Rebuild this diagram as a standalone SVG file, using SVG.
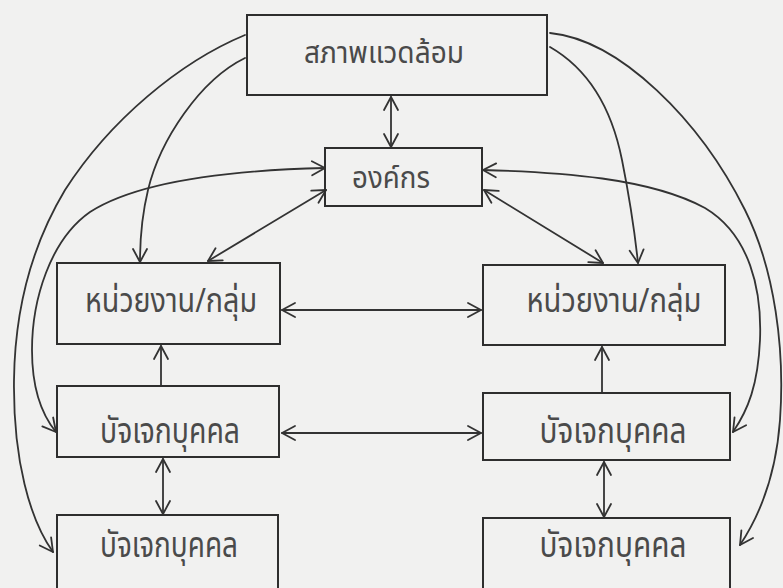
<svg xmlns="http://www.w3.org/2000/svg" width="783" height="588" viewBox="0 0 783 588">
  <style>
    .box { fill: none; stroke: #2e2e2e; stroke-width: 2; }
    .lbl { font-family: "Tlwg Typewriter", "Noto Sans Thai", "Noto Sans", "DejaVu Sans", sans-serif; fill: #4a4a4a; text-anchor: middle; }
    .s1 { font-size: 30px; }
    .s2 { font-size: 33px; }
    .s3 { font-size: 35px; }
    .link { fill: none; stroke: #333; stroke-width: 1.8; stroke-linecap: round; }
    .one { marker-end: url(#v); }
    .two { marker-start: url(#v); marker-end: url(#v); }
  </style>
  <defs>
    <marker id="v" markerUnits="userSpaceOnUse" markerWidth="30" markerHeight="30" viewBox="-15 -15 30 30" refX="0" refY="0" orient="auto-start-reverse">
      <path d="M-13,-7 L0,0 L-13,7" fill="none" stroke="#333" stroke-width="1.8" stroke-linecap="round" stroke-linejoin="round"/>
    </marker>
  </defs>

  <rect width="783" height="588" fill="#f1f1f0"/>

  <!-- connectors -->
  <g id="connectors">
    <!-- environment <-> organisation -->
    <line class="link two" x1="391" y1="97" x2="391" y2="147"/>
    <!-- environment -> units / individuals -->
    <path class="link one" d="M245,35 C180,62 110,120 65,190 C35,240 15,300 14,380 C13,460 30,520 53,552"/>
    <path class="link one" d="M245,58 C200,80 160,140 148,190 C142,215 140,240 140,262"/>
    <path class="link one" d="M550,33 C620,40 700,120 745,210 C775,270 785,350 780,420 C776,475 760,515 740,545"/>
    <path class="link one" d="M550,47 C590,70 612,110 622,160 C630,200 635,235 638,263"/>
    <!-- organisation <-> individuals -->
    <path class="link two" d="M325,168 C240,170 140,180 90,212 C50,240 32,300 32,350 C32,390 42,415 56,432"/>
    <path class="link two" d="M483,170 C560,172 650,178 705,208 C750,235 762,290 760,340 C758,385 748,410 733,432"/>
    <!-- organisation <-> units -->
    <line class="link two" x1="326" y1="190" x2="208" y2="261"/>
    <line class="link two" x1="484" y1="190" x2="603" y2="263"/>
    <!-- unit <-> unit, individual <-> individual -->
    <line class="link two" x1="282" y1="310" x2="481" y2="310"/>
    <line class="link two" x1="282" y1="433" x2="481" y2="433"/>
    <!-- individual -> unit -->
    <line class="link one" x1="161" y1="386" x2="161" y2="346"/>
    <line class="link one" x1="602" y1="393" x2="602" y2="347"/>
    <!-- individual <-> individual (vertical) -->
    <line class="link two" x1="163" y1="459" x2="163" y2="514"/>
    <line class="link two" x1="604" y1="462" x2="604" y2="517"/>
  </g>

  <g id="environment">
    <rect class="box" x="247" y="15" width="300" height="80"/>
    <text class="lbl s1" x="384" y="63" textLength="160" lengthAdjust="spacingAndGlyphs">สภาพแวดล้อม</text>
  </g>
  <g id="organisation">
    <rect class="box" x="325" y="148" width="157" height="58"/>
    <text class="lbl s1" x="391" y="188" textLength="78" lengthAdjust="spacingAndGlyphs">องค์กร</text>
  </g>
  <g id="unit-left">
    <rect class="box" x="57" y="263" width="223" height="81"/>
    <text class="lbl s2" x="171" y="312" textLength="172" lengthAdjust="spacingAndGlyphs">หน่วยงาน/กลุ่ม</text>
  </g>
  <g id="unit-right">
    <rect class="box" x="483" y="265" width="242" height="80"/>
    <text class="lbl s2" x="614" y="312" textLength="175" lengthAdjust="spacingAndGlyphs">หน่วยงาน/กลุ่ม</text>
  </g>
  <g id="individual-left-1">
    <rect class="box" x="57" y="386" width="222" height="71"/>
    <text class="lbl s3" x="170" y="443" textLength="140" lengthAdjust="spacingAndGlyphs">บัจเจกบุคคล</text>
  </g>
  <g id="individual-right-1">
    <rect class="box" x="483" y="393" width="247" height="67"/>
    <text class="lbl s3" x="613" y="443" textLength="147" lengthAdjust="spacingAndGlyphs">บัจเจกบุคคล</text>
  </g>
  <g id="individual-left-2">
    <rect class="box" x="57" y="515" width="221" height="90"/>
    <text class="lbl s3" x="169" y="557" textLength="138" lengthAdjust="spacingAndGlyphs">บัจเจกบุคคล</text>
  </g>
  <g id="individual-right-2">
    <rect class="box" x="483" y="518" width="247" height="90"/>
    <text class="lbl s3" x="613" y="557" textLength="147" lengthAdjust="spacingAndGlyphs">บัจเจกบุคคล</text>
  </g>
</svg>
